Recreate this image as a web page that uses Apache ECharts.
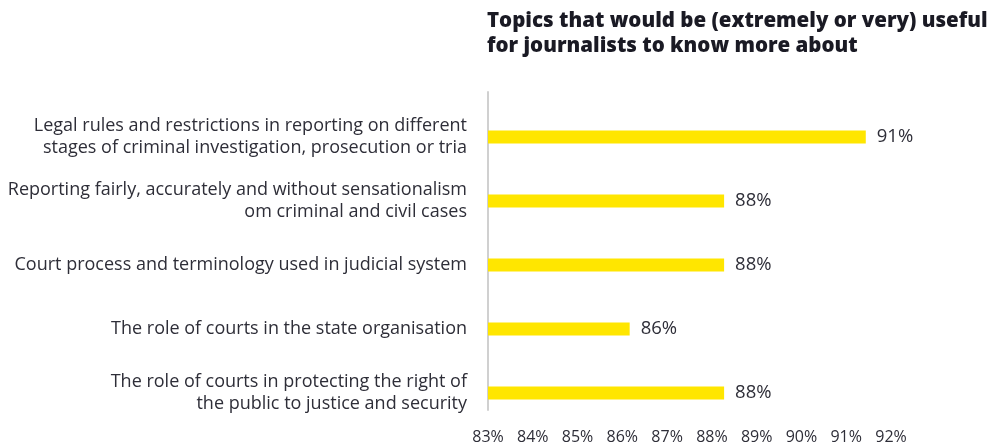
<!DOCTYPE html>
<html>
<head>
<meta charset="utf-8">
<script src="https://cdn.jsdelivr.net/npm/echarts@6/dist/echarts.min.js"></script>
<style>
  html, body { margin: 0; padding: 0; background: #ffffff; }
  #chart { width: 992px; height: 446px; }
</style>
</head>
<body>
<div id="chart"></div>
<script>
// Survey topics, top to bottom
const topics = [
  'Legal rules and restrictions in reporting on different\nstages of criminal investigation, prosecution or tria',
  'Reporting fairly, accurately and without sensationalism\nom criminal and civil cases',
  'Court process and terminology used in judicial system',
  'The role of courts in the state organisation',
  'The role of courts in protecting the right of\nthe public to justice and security'
];
// Share of respondents rating the topic extremely or very useful (%)
const usefulShare = [91, 88, 88, 86, 88];
// Scale tick labels
const tickLabels = ['83%', '84%', '85%', '86%', '87%', '88%', '89%', '90%', '91%', '92%'];
const scaleMin = 83;
const scaleMax = 92;

const textColor = '#2e2e38';
const font = '"Open Sans", sans-serif';

const chart = echarts.init(document.getElementById('chart'), null, { renderer: 'canvas' });

chart.setOption({
  animation: false,
  backgroundColor: '#ffffff',
  title: {
    text: 'Topics that would be (extremely or very) useful\nfor journalists to know more about',
    left: 487,
    top: 9,
    padding: 0,
    textStyle: {
      fontFamily: font,
      fontWeight: 800,
      fontSize: 20.5,
      lineHeight: 25,
      color: '#1a1a24'
    }
  },
  grid: [
    { left: 488, top: 105, width: 425, height: 320 },
    { left: 488, top: 92, width: 403, height: 318 }
  ],
  xAxis: [
    {
      gridIndex: 0,
      type: 'value',
      min: scaleMin,
      max: scaleMax,
      interval: 1,
      show: false
    },
    {
      gridIndex: 1,
      type: 'category',
      data: tickLabels,
      boundaryGap: false,
      axisLine: { show: false },
      axisTick: { show: false },
      splitLine: { show: false },
      axisLabel: {
        margin: 19,
        fontFamily: font,
        fontSize: 16,
        color: textColor
      }
    }
  ],
  yAxis: [
    {
      gridIndex: 0,
      type: 'category',
      data: topics,
      inverse: true,
      axisLine: { show: false },
      axisTick: { show: false },
      axisLabel: {
        margin: 21,
        align: 'right',
        fontFamily: font,
        fontSize: 18,
        lineHeight: 22,
        color: textColor
      }
    },
    {
      gridIndex: 1,
      type: 'value',
      axisLine: { show: true, lineStyle: { color: '#d0d0d0', width: 2 } },
      axisTick: { show: false },
      axisLabel: { show: false },
      splitLine: { show: false }
    }
  ],
  series: [
    {
      type: 'bar',
      xAxisIndex: 0,
      yAxisIndex: 0,
      data: usefulShare,
      barWidth: 13,
      itemStyle: { color: '#ffe600' },
      label: {
        show: true,
        position: 'right',
        distance: 11,
        formatter: '{c}%',
        fontFamily: font,
        fontSize: 18.5,
        color: textColor
      }
    }
  ]
});
</script>
</body>
</html>
